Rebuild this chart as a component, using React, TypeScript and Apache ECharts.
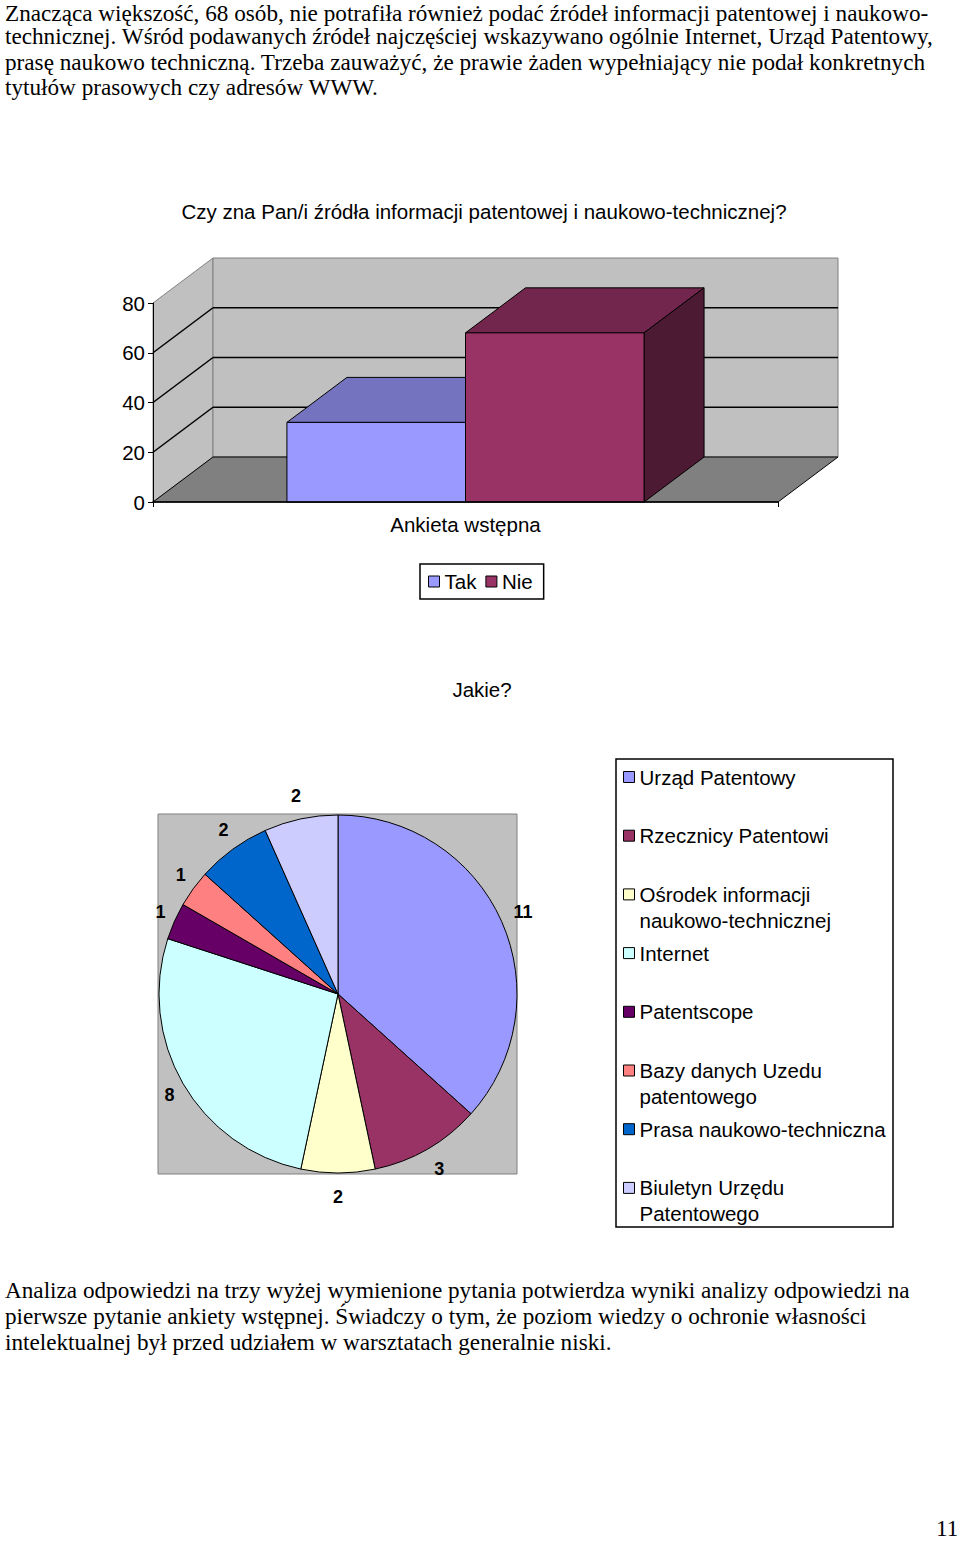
import React, { useEffect, useRef } from 'react';
import * as echarts from 'echarts';

// ---------- DATA ----------
const paragraph1 = [
  'Znacząca większość, 68 osób, nie potrafiła również podać źródeł informacji patentowej i naukowo-',
  'technicznej. Wśród podawanych źródeł najczęściej wskazywano ogólnie Internet, Urząd Patentowy,',
  'prasę naukowo techniczną. Trzeba zauważyć, że prawie żaden wypełniający nie podał konkretnych',
  'tytułów prasowych czy adresów WWW.',
];
const paragraph2 = [
  'Analiza odpowiedzi na trzy wyżej wymienione pytania potwierdza wyniki analizy odpowiedzi na',
  'pierwsze pytanie ankiety wstępnej. Świadczy o tym, że poziom wiedzy o ochronie własności',
  'intelektualnej był przed udziałem w warsztatach generalnie niski.',
];
const pageNumber = '11';

const barTitle = 'Czy zna Pan/i źródła informacji patentowej i naukowo-technicznej?';
const barCategories = ['Ankieta wstępna'];
const barSeriesNames = ['Tak', 'Nie'];
const barValues = [32, 68];
const yTicks = [0, 20, 40, 60, 80];

const pieTitle = 'Jakie?';
const pieNames = [
  'Urząd Patentowy',
  'Rzecznicy Patentowi',
  'Ośrodek informacji naukowo-technicznej',
  'Internet',
  'Patentscope',
  'Bazy danych Uzedu patentowego',
  'Prasa naukowo-techniczna',
  'Biuletyn Urzędu Patentowego',
];
const pieLegendLines = [
  ['Urząd Patentowy'],
  ['Rzecznicy Patentowi'],
  ['Ośrodek informacji', 'naukowo-technicznej'],
  ['Internet'],
  ['Patentscope'],
  ['Bazy danych Uzedu', 'patentowego'],
  ['Prasa naukowo-techniczna'],
  ['Biuletyn Urzędu', 'Patentowego'],
];
const pieValues = [11, 3, 2, 8, 1, 1, 2, 2];

// ---------- STYLE ----------
const barColors = ['#9999FF', '#993366'];
const pieColors = ['#9999FF', '#993366', '#FFFFCC', '#CCFFFF', '#660066', '#FF8080', '#0066CC', '#CCCCFF'];
const DX = 60;
const DY = -45;
const GAP = 1.5;
const SANS = 'Liberation Sans';
const SERIF = 'Liberation Serif';
const CHART_FONT = 20.5;
const LEGEND_LH = 26;

function shade(hex: string, f: number) {
  const n = parseInt(hex.slice(1), 16);
  const r = Math.round(((n >> 16) & 255) * f);
  const g = Math.round(((n >> 8) & 255) * f);
  const b = Math.round((n & 255) * f);
  return `rgb(${r},${g},${b})`;
}

function buildOption() {
  const wallsRender = (params: any, api: any) => {
    const cs = params.coordSys;
    const x = cs.x, y = cs.y, w = cs.width, h = cs.height;
    const children: any[] = [
      { type: 'polygon', shape: { points: [[x, y], [x + DX, y + DY], [x + DX, y + h + DY], [x, y + h]] }, style: { fill: '#C0C0C0', stroke: '#808080', lineWidth: 1 } },
      { type: 'rect', shape: { x: x + DX, y: y + DY, width: w, height: h }, style: { fill: '#C0C0C0', stroke: '#808080', lineWidth: 1 } },
      { type: 'polygon', shape: { points: [[x, y + h], [x + DX, y + h + DY], [x + w + DX, y + h + DY], [x + w, y + h]] }, style: { fill: '#808080', stroke: '#000', lineWidth: 1 } },
    ];
    yTicks.slice(1, -1).forEach((v) => {
      const yy = api.coord([0, v])[1];
      children.push({ type: 'line', shape: { x1: x + DX, y1: yy + DY, x2: x + w + DX, y2: yy + DY }, style: { stroke: '#000', lineWidth: 1.5 } });
      children.push({ type: 'line', shape: { x1: x, y1: yy, x2: x + DX, y2: yy + DY }, style: { stroke: '#000', lineWidth: 1.5 } });
    });
    return { type: 'group', children };
  };

  const barRender = (k: number) => (params: any, api: any) => {
    const v = api.value(1);
    const base = api.coord([api.value(0), 0]);
    const topP = api.coord([api.value(0), v]);
    const band = api.size([1, 0])[0];
    const w = band / (barSeriesNames.length + GAP);
    const x0 = base[0] - band / 2 + (GAP / 2) * w + k * w;
    const x1 = x0 + w;
    const yb = base[1];
    const yt = topP[1];
    const c = barColors[k];
    return {
      type: 'group',
      children: [
        { type: 'polygon', shape: { points: [[x0, yt], [x0 + DX, yt + DY], [x1 + DX, yt + DY], [x1, yt]] }, style: { fill: shade(c, 0.75), stroke: '#000', lineWidth: 1 } },
        { type: 'polygon', shape: { points: [[x1, yt], [x1 + DX, yt + DY], [x1 + DX, yb + DY], [x1, yb]] }, style: { fill: shade(c, 0.5), stroke: '#000', lineWidth: 1 } },
        { type: 'rect', shape: { x: x0, y: yt, width: w, height: yb - yt }, style: { fill: c, stroke: '#000', lineWidth: 1 } },
      ],
    };
  };

  const pieLegendTop0 = 777;
  const pieLegendStep = 58.7;
  const pieLegends = pieNames.map((n, i) => {
    const lines = pieLegendLines[i];
    const multi = lines.length > 1;
    // a leading empty line keeps the first text line level with the legend square
    const label = multi ? '\n' + lines.join('\n') : lines[0];
    const yc = pieLegendTop0 + pieLegendStep * i;
    return {
      data: [n],
      left: 623,
      top: yc - (multi ? LEGEND_LH * 1.5 : LEGEND_LH / 2),
      orient: 'vertical',
      padding: 0,
      itemWidth: 11,
      itemHeight: 11,
      icon: 'rect',
      selectedMode: false,
      itemStyle: { borderColor: '#000', borderWidth: 1 },
      formatter: () => label,
      textStyle: { fontFamily: SANS, fontSize: CHART_FONT, color: '#000', lineHeight: LEGEND_LH },
    };
  });

  // labels on the left half sit a little closer to the pie (edge-anchored like the original)
  const total = pieValues.reduce((a, b) => a + b, 0);
  let acc = 0;
  const labelPads = pieValues.map((v) => {
    const mid = ((acc + v / 2) / total) * Math.PI * 2;
    acc += v;
    const s = Math.sin(mid);
    return s < -0.3 ? [0, 0, 0, Math.round(-s * 16)] : 0;
  });

  const axisFont = { color: '#000', fontSize: CHART_FONT, fontFamily: SANS };

  return {
    animation: false,
    textStyle: { fontFamily: SANS },
    title: [
      { text: barTitle, left: 484, top: 201, padding: 0, textAlign: 'center', textStyle: { fontFamily: SANS, fontSize: CHART_FONT, fontWeight: 'normal', color: '#000' } },
      { text: pieTitle, left: 482, top: 679, padding: 0, textAlign: 'center', textStyle: { fontFamily: SANS, fontSize: CHART_FONT, fontWeight: 'normal', color: '#000' } },
    ],
    grid: [{ left: 153, top: 303, width: 625, height: 199 }],
    xAxis: [{
      type: 'category', gridIndex: 0, data: barCategories, z: 10,
      axisLine: { lineStyle: { color: '#000', width: 1.5 } },
      axisTick: { show: true, length: 5, lineStyle: { color: '#000' } },
      axisLabel: { ...axisFont, margin: 12 },
    }],
    yAxis: [{
      type: 'value', gridIndex: 0, min: 0, max: 80, interval: 20, z: 10,
      axisLine: { show: true, lineStyle: { color: '#000', width: 1 } },
      axisTick: { show: true, length: 5, lineStyle: { color: '#000' } },
      axisLabel: { ...axisFont, margin: 8 },
      splitLine: { show: false },
    }],
    legend: [
      {
        data: barSeriesNames, left: 420, top: 564, orient: 'horizontal',
        padding: [7, 11, 7, 8], itemGap: 9, itemWidth: 11, itemHeight: 11, icon: 'rect',
        borderColor: '#000', borderWidth: 1.5, selectedMode: false,
        itemStyle: { borderColor: '#000', borderWidth: 1 },
        textStyle: { fontFamily: SANS, fontSize: CHART_FONT, color: '#000' },
      },
      ...pieLegends,
    ],
    graphic: [
      { type: 'rect', z: -5, shape: { x: 158, y: 814, width: 359, height: 360 }, style: { fill: '#C0C0C0', stroke: '#808080', lineWidth: 1 } },
      { type: 'rect', z: -5, shape: { x: 616, y: 759, width: 277, height: 468 }, style: { fill: '#fff', stroke: '#000', lineWidth: 1.5 } },
    ],
    series: [
      { type: 'custom', name: 'walls', coordinateSystem: 'cartesian2d', xAxisIndex: 0, yAxisIndex: 0, data: [[0, 0]], renderItem: wallsRender, silent: true, z: 1 },
      ...barSeriesNames.map((n, k) => ({
        type: 'custom', name: n, coordinateSystem: 'cartesian2d', xAxisIndex: 0, yAxisIndex: 0,
        itemStyle: { color: barColors[k] }, data: [[0, barValues[k]]], renderItem: barRender(k), silent: true, z: 2 + k,
      })),
      {
        type: 'pie', name: pieTitle, center: [338, 994], radius: 179, startAngle: 90, clockwise: true, silent: true,
        data: pieNames.map((n, i) => ({ name: n, value: pieValues[i], itemStyle: { color: pieColors[i] } })),
        itemStyle: { borderColor: '#000', borderWidth: 1 },
        label: { show: false }, labelLine: { show: false }, emphasis: { disabled: true },
      },
      {
        type: 'pie', name: 'labels', center: [338, 994], radius: [189, 210], startAngle: 90, clockwise: true, silent: true,
        data: pieNames.map((n, i) => ({ name: n, value: pieValues[i], itemStyle: { color: 'rgba(0,0,0,0)' }, label: { padding: labelPads[i] } })),
        itemStyle: { borderWidth: 0 },
        label: { show: true, position: 'inside', formatter: '{c}', fontFamily: SANS, fontSize: 18, fontWeight: 'bold', color: '#000' },
        labelLine: { show: false }, emphasis: { disabled: true },
      },
    ],
  };
}

const PARA_FONT = 23.2;
const PARA_LH = 25.7;
const BOX_LH = 21;
const BASE_OFF = (BOX_LH - PARA_FONT * 1.107) / 2 + PARA_FONT * 0.891;
const lineStyle = (baseline: number): React.CSSProperties => ({
  position: 'absolute', left: 5, top: baseline - BASE_OFF, whiteSpace: 'nowrap',
  fontFamily: SERIF, fontSize: PARA_FONT, lineHeight: BOX_LH + 'px', color: '#000',
});

export default function App() {
  const ref = useRef<HTMLDivElement>(null);
  useEffect(() => {
    document.body.style.margin = '0';
    const chart = echarts.init(ref.current!, null, { renderer: 'svg' });
    chart.setOption(buildOption() as any);
    return () => chart.dispose();
  }, []);
  return (
    <div style={{ position: 'absolute', left: 0, top: 0, width: 960, height: 1543, background: '#fff', overflow: 'hidden' }}>
      <div ref={ref} style={{ position: 'absolute', left: 0, top: 0, width: 960, height: 1543 }} />
      {paragraph1.map((t, i) => (
        <div key={'p1' + i} style={lineStyle(i === 0 ? 21 : 18.6 + PARA_LH * i)}>{t}</div>
      ))}
      {paragraph2.map((t, i) => (
        <div key={'p2' + i} style={lineStyle(1298.7 + 26 * i)}>{t}</div>
      ))}
      <div style={{ ...lineStyle(1536), left: 936 }}>{pageNumber}</div>
    </div>
  );
}
